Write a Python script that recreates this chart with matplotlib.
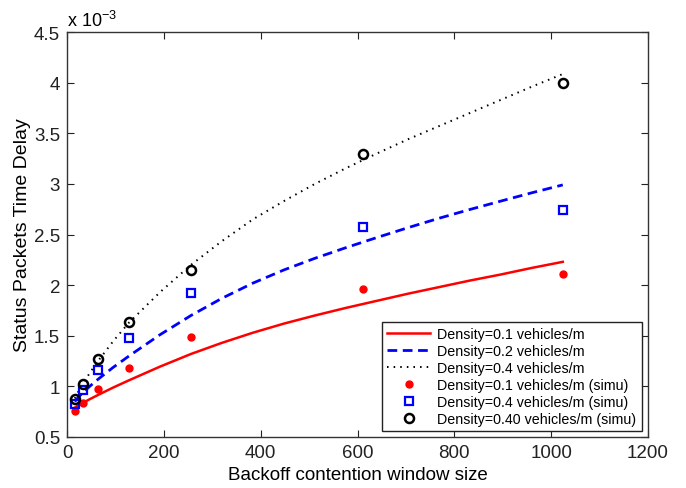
import matplotlib
matplotlib.use("Agg")
import matplotlib.pyplot as plt
from matplotlib.ticker import FuncFormatter, MultipleLocator

plt.rcParams['font.family'] = ['Liberation Sans', 'DejaVu Sans']
plt.rcParams['mathtext.fontset'] = 'custom'
plt.rcParams['mathtext.rm'] = 'Liberation Sans'
plt.rcParams['mathtext.it'] = 'Liberation Sans'

# analytical curves (delay in units of 1e-3)
x_line = [16, 24, 32, 48, 64, 96, 128, 192, 256, 320, 384, 448, 512, 576, 640,
          704, 768, 832, 896, 960, 1024]
red_line = [0.79, 0.813, 0.835, 0.876, 0.915, 0.99, 1.06, 1.195, 1.32, 1.43, 1.53,
            1.62, 1.70, 1.775, 1.845, 1.915, 1.98, 2.045, 2.105, 2.17, 2.23]
blue_line = [0.85, 0.895, 0.935, 1.005, 1.07, 1.19, 1.30, 1.51, 1.70, 1.87, 2.02,
             2.15, 2.265, 2.37, 2.47, 2.567, 2.66, 2.747, 2.83, 2.912, 2.99]
black_line = [0.88, 0.955, 1.02, 1.14, 1.25, 1.45, 1.63, 1.93, 2.20, 2.435, 2.65,
              2.83, 3.00, 3.155, 3.30, 3.44, 3.57, 3.70, 3.83, 3.96, 4.085]

# simulation points
x_sim = [16, 32, 64, 128, 256, 612, 1024]
red_sim = [0.76, 0.84, 0.97, 1.18, 1.49, 1.96, 2.11]
blue_sim = [0.83, 0.96, 1.165, 1.475, 1.925, 2.577, 2.745]
black_sim = [0.875, 1.02, 1.27, 1.64, 2.15, 3.30, 4.00]

labels = ["Density=0.1 vehicles/m", "Density=0.2 vehicles/m", "Density=0.4 vehicles/m",
          "Density=0.1 vehicles/m (simu)", "Density=0.4 vehicles/m (simu)",
          "Density=0.40 vehicles/m (simu)"]

fig = plt.figure(figsize=(6.86, 4.89), dpi=100)
ax = fig.add_axes([0.0977, 0.1043, 0.8469, 0.8282])

ax.plot(x_line, red_line, color='#ff0000', lw=1.8, label=labels[0])
ax.plot(x_line, blue_line, color='#0000ff', lw=2.0, dashes=[3.5, 2.0], label=labels[1])
ax.plot(x_line, black_line, color='black', lw=1.4, dashes=[0.8, 2.6], label=labels[2])
ax.plot(x_sim, red_sim, 'o', color='#ff0000', ms=5, mec='#ff0000', label=labels[3])
ax.plot(x_sim, blue_sim, 's', mfc='none', mec='#0000ff', ms=5.5, mew=1.6, label=labels[4])
ax.plot(x_sim, black_sim, 'o', mfc='none', mec='black', ms=6.5, mew=1.8, label=labels[5])

ax.set_xlim(0, 1200)
ax.set_ylim(0.5, 4.5)
ax.xaxis.set_major_locator(MultipleLocator(200))
ax.yaxis.set_major_locator(MultipleLocator(0.5))
ax.yaxis.set_major_formatter(FuncFormatter(lambda v, p: ('%g' % v)))
ax.tick_params(direction='in', length=5, width=0.8, top=True, right=True,
               labelsize=13.5, colors='#222222', pad=5)
for s in ax.spines.values():
    s.set_color('#333333')
    s.set_linewidth(1.0)

ax.set_xlabel("Backoff contention window size", fontsize=13.5, labelpad=4)
ax.set_ylabel("Status Packets Time Delay", fontsize=14, labelpad=2)
ax.text(0.0, 1.004, r"x 10$^{-3}$", transform=ax.transAxes, ha='left', va='bottom',
        fontsize=13)

leg = ax.legend(loc='lower right', fontsize=10.3, handlelength=3.0, labelspacing=0.2,
                borderaxespad=0.4, fancybox=False, framealpha=1, edgecolor='#222222',
                handletextpad=0.5, borderpad=0.4)
leg.get_frame().set_linewidth(1.0)

fig.savefig("out.png", dpi=100)
